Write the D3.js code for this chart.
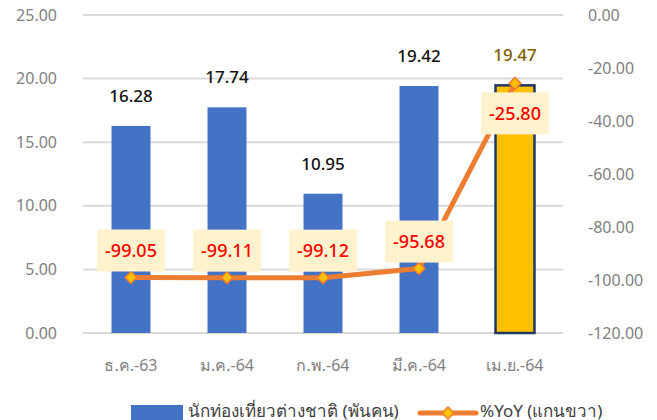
<!DOCTYPE html>
<html lang="th">
<head>
<meta charset="UTF-8">
<title>นักท่องเที่ยวต่างชาติ</title>
<script src="https://d3js.org/d3.v7.min.js"></script>
<style>
    body { margin: 0; background: #fff; }
    svg text { font-family: "Noto Sans", "Open Sans", sans-serif; }
    .tick-label { fill: #7f7f7f; font-size: 16px; }
</style>
</head>
<body>
<div id="chart"></div>
<script>
    // data
    var categories = ["ธ.ค.-63", "ม.ค.-64", "ก.พ.-64", "มี.ค.-64", "เม.ย.-64"];
    var tourists = [16.28, 17.74, 10.95, 19.42, 19.47];
    var yoy = [-99.05, -99.11, -99.12, -95.68, -25.80];
    var leftTicks = [0, 5, 10, 15, 20, 25];
    var rightTicks = [0, -20, -40, -60, -80, -100, -120];
    var seriesNames = ["นักท่องเที่ยวต่างชาติ (พันคน)", "%YoY (แกนขวา)"];

    var W = 657, H = 420;
    var margin = {top: 15, right: 94, bottom: 87, left: 83},
        width = W - margin.left - margin.right,
        height = H - margin.top - margin.bottom;

    // excel style: plain hyphen for negatives
    var fmt = function (d) { return d3.format(".2f")(d).replace("\u2212", "-"); };

    var svg = d3.select("#chart").append("svg")
        .attr("width", W).attr("height", H);
    var g = svg.append("g")
        .attr("transform", "translate(" + margin.left + "," + margin.top + ")");

    var x = d3.scaleBand().domain(categories).range([0, width])
        .paddingInner(0.594).paddingOuter(0.297);
    var yL = d3.scaleLinear().domain([0, 25]).range([height, 0]);
    var yR = d3.scaleLinear().domain([-120, 0]).range([height, 0]);

    // gridlines
    g.selectAll(".grid").data(leftTicks).enter().append("line")
        .attr("x1", 0).attr("x2", width)
        .attr("y1", function (d) { return yL(d); })
        .attr("y2", function (d) { return yL(d); })
        .attr("stroke", "#d9d9d9").attr("stroke-width", 2);

    // left axis labels
    g.selectAll(".ltick").data(leftTicks).enter().append("text")
        .attr("class", "tick-label")
        .attr("x", -26).attr("y", function (d) { return yL(d); })
        .attr("dy", "0.35em").attr("text-anchor", "end")
        .text(fmt);

    // right axis labels
    g.selectAll(".rtick").data(rightTicks).enter().append("text")
        .attr("class", "tick-label")
        .attr("x", width + 25).attr("y", function (d) { return yR(d); })
        .attr("dy", "0.35em").attr("text-anchor", "start")
        .text(fmt);

    // x labels
    g.selectAll(".xtick").data(categories).enter().append("text")
        .attr("class", "tick-label")
        .attr("x", function (d) { return x(d) + x.bandwidth() / 2; })
        .attr("y", height + 32).attr("dy", "0.35em")
        .attr("text-anchor", "middle")
        .text(function (d) { return d; });

    var last = categories.length - 1;

    // bars
    g.selectAll(".bar").data(tourists).enter().append("rect")
        .attr("x", function (d, i) { return x(categories[i]); })
        .attr("y", function (d) { return yL(d); })
        .attr("width", x.bandwidth())
        .attr("height", function (d) { return height - yL(d); })
        .attr("fill", function (d, i) { return i === last ? "#ffc000" : "#4472c4"; })
        .attr("stroke", function (d, i) { return i === last ? "#203864" : "none"; })
        .attr("stroke-width", 2.5);

    // bar labels
    g.selectAll(".barlabel").data(tourists).enter().append("text")
        .attr("x", function (d, i) { return x(categories[i]) + x.bandwidth() / 2; })
        .attr("y", function (d) { return yL(d) - 24; })
        .attr("text-anchor", "middle")
        .style("font-size", "17px").style("font-weight", 500)
        .attr("fill", function (d, i) { return i === last ? "#7f6000" : "#111"; })
        .text(fmt);

    // line
    var cx = function (i) { return x(categories[i]) + x.bandwidth() / 2; };
    g.append("path").datum(yoy)
        .attr("fill", "none").attr("stroke", "#ed7d31")
        .attr("stroke-width", 5).attr("stroke-linejoin", "round")
        .attr("d", d3.line()
            .x(function (d, i) { return cx(i); })
            .y(function (d) { return yR(d); }));

    var diamond = d3.symbol().type(d3.symbolDiamond2).size(90);
    g.selectAll(".marker").data(yoy).enter().append("path")
        .attr("d", diamond)
        .attr("transform", function (d, i) { return "translate(" + cx(i) + "," + yR(d) + ")"; })
        .attr("fill", "#ffc000").attr("stroke", "#ed7d31").attr("stroke-width", 1.5);

    // line labels with boxes
    var lab = g.selectAll(".linelabel").data(yoy).enter().append("g")
        .attr("transform", function (d, i) {
            var off = i === last ? 30 : -27;
            return "translate(" + cx(i) + "," + (yR(d) + off) + ")";
        });
    lab.append("rect")
        .attr("x", -34).attr("y", -21).attr("width", 68).attr("height", 42)
        .attr("fill", "#fff2cc");
    lab.append("text")
        .attr("text-anchor", "middle").attr("dy", "0.35em")
        .style("font-size", "18px").style("font-weight", 500).attr("fill", "#ff0000")
        .text(fmt);

    // legend
    var leg = svg.append("g");
    leg.append("rect").attr("x", 131).attr("y", 405).attr("width", 52).attr("height", 16)
        .attr("fill", "#4472c4");
    leg.append("text").attr("x", 188).attr("y", 411).attr("dy", "0.35em")
        .style("font-size", "17px").attr("fill", "#404040").text(seriesNames[0]);
    leg.append("line").attr("x1", 420).attr("x2", 476).attr("y1", 413).attr("y2", 413)
        .attr("stroke", "#ed7d31").attr("stroke-width", 5).attr("stroke-linecap", "round");
    leg.append("path").attr("d", diamond)
        .attr("transform", "translate(448,413)")
        .attr("fill", "#ffc000").attr("stroke", "#ed7d31").attr("stroke-width", 1.5);
    leg.append("text").attr("x", 480).attr("y", 411).attr("dy", "0.35em")
        .style("font-size", "17px").attr("fill", "#404040").text(seriesNames[1]);
</script>
</body>
</html>
